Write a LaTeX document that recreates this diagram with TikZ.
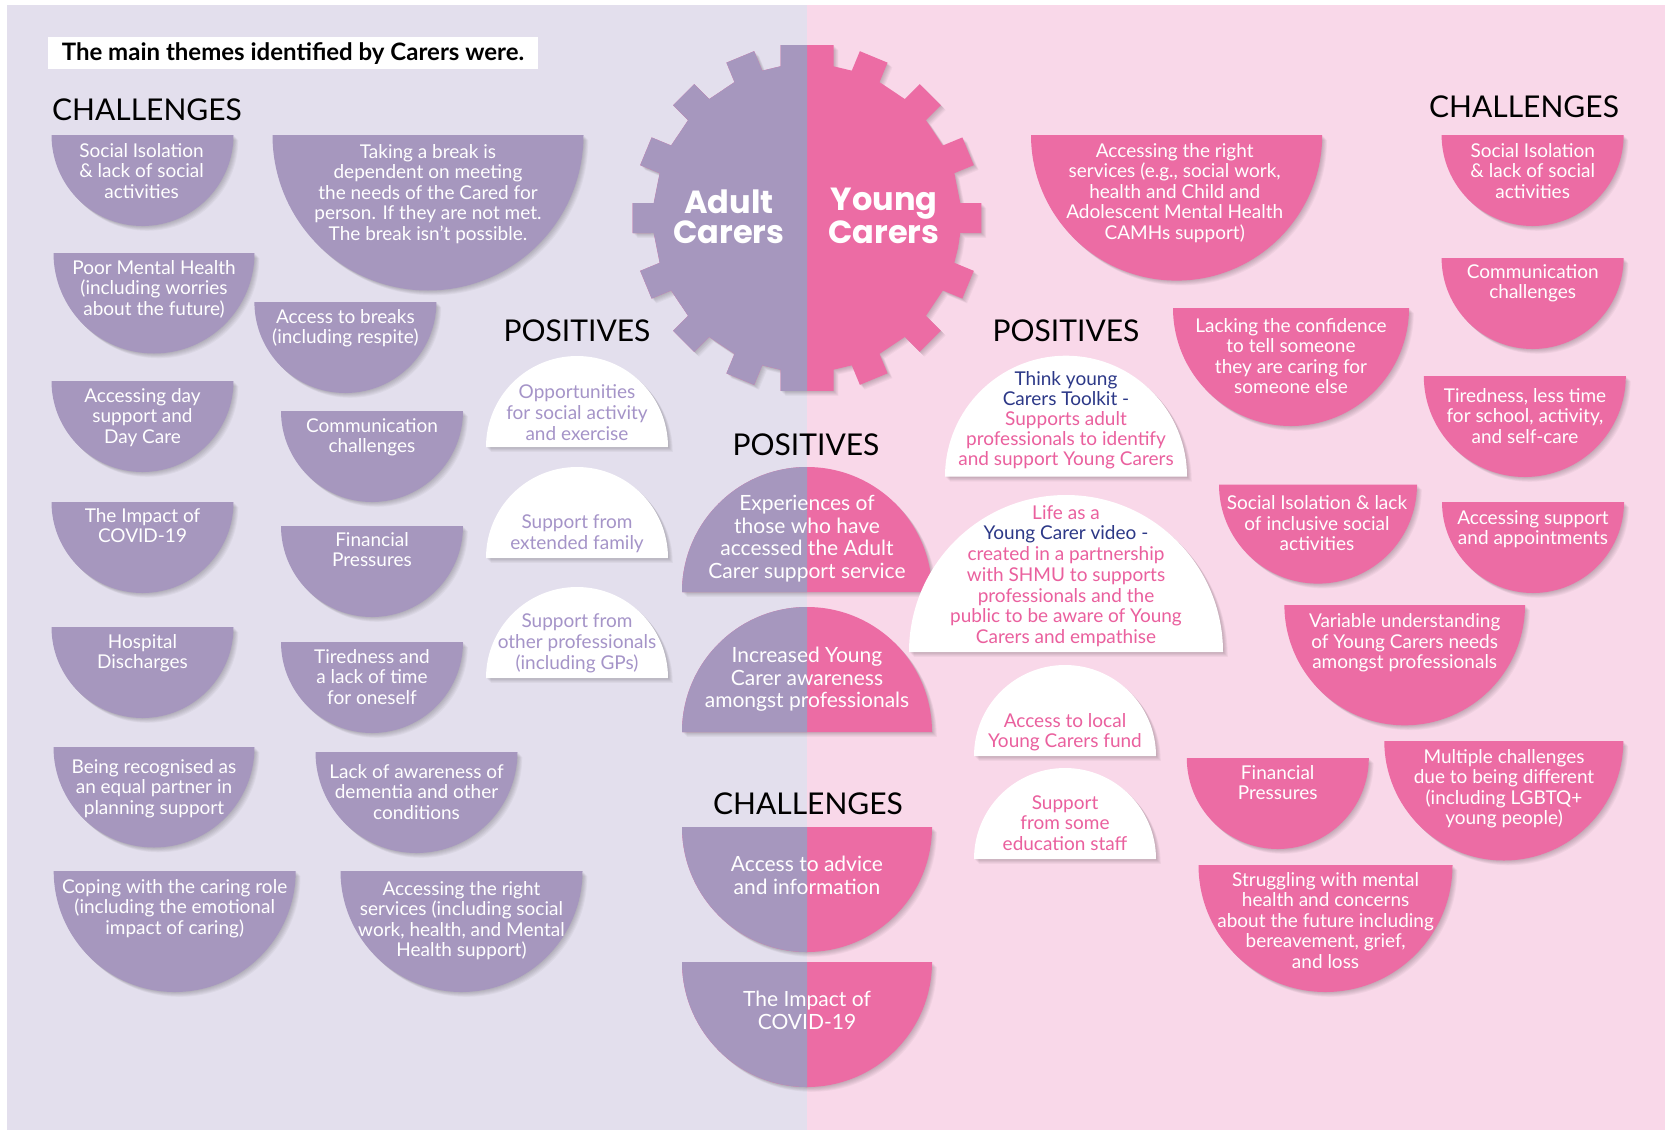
\documentclass[tikz,border=0pt]{standalone}
\usepackage{fontspec}
\setmainfont{Lato}
\newfontfamily\gearfont{Poppins}
\definecolor{purp}{RGB}{166,151,190}
\definecolor{pinkc}{RGB}{236,108,164}
\definecolor{lavbg}{RGB}{227,223,237}
\definecolor{pinkbg}{RGB}{249,216,233}
\definecolor{lavtxt}{RGB}{165,148,200}
\definecolor{navy}{RGB}{44,56,135}
\definecolor{pinktxt}{RGB}{234,96,158}

\newcommand\bowlpath[3]{({#1-#3},{-#2}) arc[start angle=180,end angle=360,radius=#3] -- cycle}
\newcommand\domepath[3]{({#1-#3},{-#2}) arc[start angle=180,end angle=0,radius=#3] -- cycle}
\newcommand\shad[1]{\foreach \s in {1,...,6}{\fill[black,opacity=0.035,shift={(\s*0.8,-\s*0.8)}] #1;}}
\newcommand\bowl[4]{\shad{\bowlpath{#1}{#2}{#3}}\fill[#4] \bowlpath{#1}{#2}{#3};}
\newcommand\dome[4]{\shad{\domepath{#1}{#2}{#3}}\fill[#4] \domepath{#1}{#2}{#3};}
\newcommand\splitbowl[3]{\shad{\bowlpath{#1}{#2}{#3}}\fill[pinkc] \bowlpath{#1}{#2}{#3};
  \begin{scope}\clip (0,0) rectangle (807,-1130); \fill[purp] \bowlpath{#1}{#2}{#3};\end{scope}}
\newcommand\splitdome[3]{\shad{\domepath{#1}{#2}{#3}}\fill[pinkc] \domepath{#1}{#2}{#3};
  \begin{scope}\clip (0,0) rectangle (807,-1130); \fill[purp] \domepath{#1}{#2}{#3};\end{scope}}
\newcommand\txt[5][]{\node[txt,#1] (#2) at (#3,{-#4+15}) {\rule{0pt}{15pt}#5};}
\newcommand\gearpath{(-11.25:154) \foreach \a/\w in {0/15,22.5/15,45/15,67.5/15,90/26.5,112.5/15,135/15,157.5/15,180/15,202.5/15,225/15,247.5/15,270/26.5,292.5/15,315/15,337.5/15}{ -- ({\a-asin(\w/154)}:154) -- ({\a-asin(\w/175)}:175) -- ({\a+asin(\w/175)}:175) -- ({\a+asin(\w/154)}:154)} -- cycle}

\tikzset{
  txt/.style={anchor=north,align=center,inner sep=0pt,text=white,font=\fontsize{19}{20.5}\selectfont},
  big/.style={font=\fontsize{21}{22.5}\selectfont},
  head/.style={anchor=base,inner sep=0pt,font=\fontsize{30}{31}\selectfont,text=black},
  geartxt/.style={anchor=base,align=center,inner sep=0pt,text=white,font=\gearfont\bfseries\fontsize{32}{30}\selectfont}
}

\begin{document}
\begin{tikzpicture}[x=1pt,y=1pt]
\useasboundingbox (0,0) rectangle (1665,-1130);
% backgrounds
\fill[white] (0,0) rectangle (1665,-1130);
\fill[lavbg] (7,-5) rectangle (807,-1130);
\fill[pinkbg] (807,-5) rectangle (1665,-1130);

% title
\fill[white] (48,-37) rectangle (538,-69);
\node[anchor=base,inner sep=0pt,font=\bfseries\fontsize{24}{26}\selectfont] (title) at (293,-60) {The main themes identified by Carers were.};

% headings
\node[head] (chL) at (147,-120) {CHALLENGES};
\node[head] (chR) at (1524,-117) {CHALLENGES};
\node[head] (chC) at (808,-814) {CHALLENGES};
\node[head] (poL) at (577,-341) {POSITIVES};
\node[head] (poC) at (806,-455) {POSITIVES};
\node[head] (poR) at (1066,-341) {POSITIVES};

% gear
\begin{scope}[shift={(807,-218)}]
  \shad{\gearpath}
  \fill[pinkc] \gearpath;
  \begin{scope}\clip (-200,-200) rectangle (0,200); \fill[purp] \gearpath; \end{scope}
\end{scope}
\node[geartxt] (adult) at (729,-243) {Adult\\Carers};
\node[geartxt] (young) at (884,-243) {Young\\Carers};

% left challenges
\bowl{142.5}{135}{91}{purp}
\bowl{428}{135}{155.5}{purp}
\bowl{154}{253}{100.5}{purp}
\bowl{345.4}{302}{91}{purp}
\bowl{142.5}{381}{91}{purp}
\bowl{372}{411}{91}{purp}
\bowl{142.5}{502}{91}{purp}
\bowl{372}{526}{91}{purp}
\bowl{142.5}{627}{91}{purp}
\bowl{372}{642}{91}{purp}
\bowl{154}{747}{100.5}{purp}
\bowl{416.5}{752}{101}{purp}
\bowl{174.7}{871}{121}{purp}
\bowl{461.5}{871}{121}{purp}

% left positives
\dome{577}{447}{91}{white}
\dome{577}{558}{91}{white}
\dome{577}{678}{91}{white}

% centre
\splitdome{807}{592}{125}
\splitdome{807}{732}{125}
\splitbowl{807}{827}{125}
\splitbowl{807}{962}{125}

% right challenges
\bowl{1176.6}{135}{145.6}{pinkc}
\bowl{1532.6}{135}{91}{pinkc}
\bowl{1532.6}{258}{91}{pinkc}
\bowl{1291}{308}{118}{pinkc}
\bowl{1524.8}{376}{101}{pinkc}
\bowl{1318}{484.6}{99}{pinkc}
\bowl{1533}{502}{91}{pinkc}
\bowl{1404.7}{605}{120.3}{pinkc}
\bowl{1277.8}{758}{91}{pinkc}
\bowl{1503.8}{741}{119.5}{pinkc}
\bowl{1325.5}{865}{127}{pinkc}

% right positives
\dome{1066}{476.7}{121}{white}
\dome{1066}{652}{157}{white}
\dome{1065}{756}{91}{white}
\dome{1065}{859}{91}{white}

% texts left challenges
\txt{t1}{141.6}{157}{Social Isolation\\\& lack of social\\activities}
\txt{t2}{428}{158}{Taking a break is\\dependent on meeting\\the needs of the Cared for\\person. If they are not met.\\The break isn’t possible.}
\txt{t3}{154}{274}{Poor Mental Health\\(including worries\\about the future)}
\txt{t4}{345.4}{323}{Access to breaks\\(including respite)}
\txt{t5}{142.5}{402}{Accessing day\\support and\\Day Care}
\txt{t6}{372}{432}{Communication\\challenges}
\txt{t7}{142.5}{522}{The Impact of\\COVID-19}
\txt{t8}{372}{546}{Financial\\Pressures}
\txt{t9}{142.5}{648}{Hospital\\Discharges}
\txt{t10}{372}{663}{Tiredness and\\a lack of time\\for oneself}
\txt{t11}{154}{773}{Being recognised as\\an equal partner in\\planning support}
\txt{t12}{416.5}{778}{Lack of awareness of\\dementia and other\\conditions}
\txt{t13}{174.7}{893}{Coping with the caring role\\(including the emotional\\impact of caring)}
\txt{t14}{461.5}{895}{Accessing the right\\services (including social\\work, health, and Mental\\Health support)}

% left positives text
\txt[text=lavtxt,font=\fontsize{19}{21}\selectfont]{t15}{577}{398}{Opportunities\\for social activity\\and exercise}
\txt[text=lavtxt,font=\fontsize{19}{21}\selectfont]{t16}{577}{528}{Support from\\extended family}
\txt[text=lavtxt,font=\fontsize{19}{21}\selectfont]{t17}{577}{627}{Support from\\other professionals\\(including GPs)}

% centre text
\txt[big]{t18}{807}{510}{Experiences of\\those who have\\accessed the Adult\\Carer support service}
\txt[big]{t19}{807}{662}{Increased Young\\Carer awareness\\amongst professionals}
\txt[big]{t20}{807}{871}{Access to advice\\and information}
\txt[big]{t21}{807}{1006}{The Impact of\\COVID-19}

% right challenges text
\txt{t22}{1174.7}{157}{Accessing the right\\services (e.g., social work,\\health and Child and\\Adolescent Mental Health\\CAMHs support)}
\txt{t23}{1532.7}{157}{Social Isolation\\\& lack of social\\activities}
\txt{t24}{1532.7}{278}{Communication\\challenges}
\txt{t25}{1291}{332}{Lacking the confidence\\to tell someone\\they are caring for\\someone else}
\txt{t26}{1525}{402}{Tiredness, less time\\for school, activity,\\and self-care}
\txt{t31}{1317}{509.6}{Social Isolation \& lack\\of inclusive social\\activities}
\txt{t32}{1533}{524}{Accessing support\\and appointments}
\txt{t33}{1404.7}{627.5}{Variable understanding\\of Young Carers needs\\amongst professionals}
\txt{t34}{1277.7}{779}{Financial\\Pressures}
\txt{t35}{1504}{763}{Multiple challenges\\due to being different\\(including LGBTQ+\\young people)}
\txt{t36}{1325.6}{886}{Struggling with mental\\health and concerns\\about the future including\\bereavement, grief,\\and loss}

% right positives text
\txt[text=pinktxt,font=\fontsize{19}{20}\selectfont]{t27}{1066}{385}{\textcolor{navy}{Think young}\\\textcolor{navy}{Carers Toolkit -}\\Supports adult\\professionals to identify\\and support Young Carers}
\txt[text=pinktxt,font=\fontsize{19}{20.7}\selectfont]{t28}{1066}{519}{Life as a\\\textcolor{navy}{Young Carer video -}\\created in a partnership\\with SHMU to supports\\professionals and the\\public to be aware of Young\\Carers and empathise}
\txt[text=pinktxt,font=\fontsize{19}{20}\selectfont]{t29}{1065}{727}{Access to local\\Young Carers fund}
\txt[text=pinktxt,font=\fontsize{19}{20.5}\selectfont]{t30}{1065}{809}{Support\\from some\\education staff}
\end{tikzpicture}
\end{document}
